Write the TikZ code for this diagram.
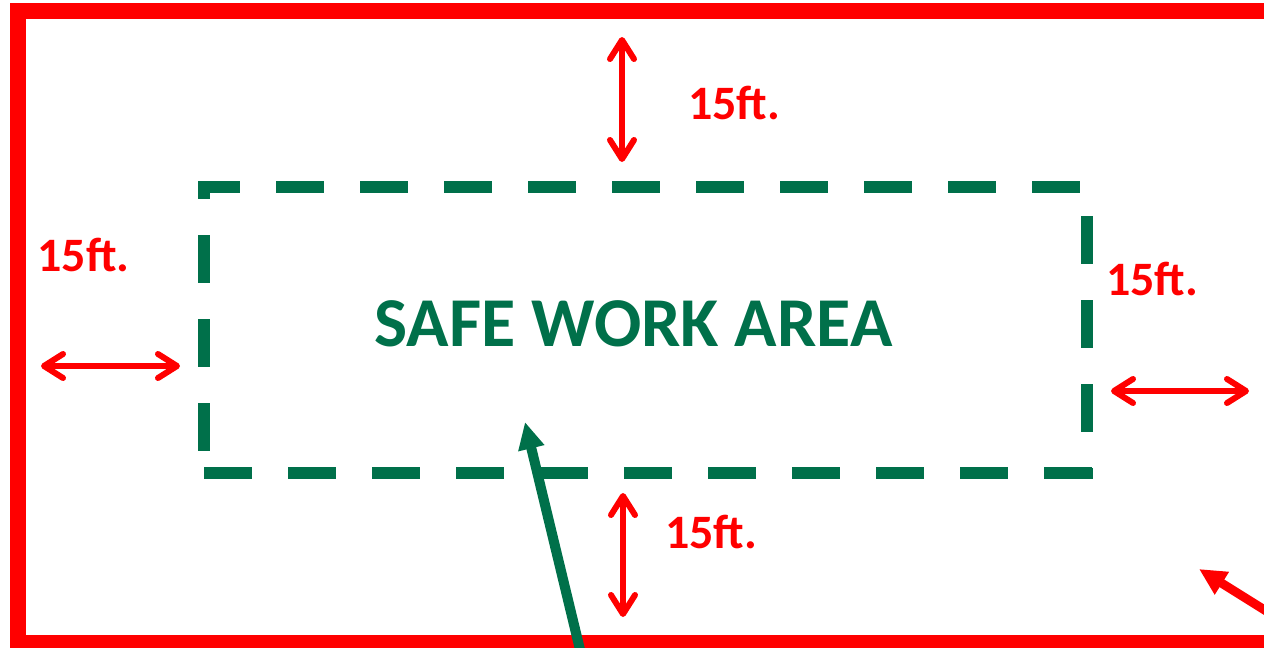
\documentclass[tikz,border=0pt]{standalone}
\usepackage{fontspec}
\setmainfont{Carlito}
\usetikzlibrary{arrows.meta}
\definecolor{safegreen}{RGB}{0,112,74}
\definecolor{warnred}{RGB}{255,0,0}
\tikzset{
  barb/.tip={Straight Barb[length=19pt,width=24pt,line width=6pt,round]},
  dimarrow/.style={draw=warnred, line width=5.5pt, {barb}-{barb}},
  dimlabel/.style={text=warnred, font=\bfseries\fontsize{48}{48}\selectfont, inner sep=0pt, anchor=base},
  dashedge/.style={draw=safegreen, line width=12pt, line cap=butt, dash pattern=on 48pt off 36pt},
  bigarrow/.style={line width=#1, -{Triangle[length=27pt,width=25pt]}},
}
\begin{document}
\begin{tikzpicture}[x=1pt,y=-1pt]
  \useasboundingbox (0,0) rectangle (1264,648);
  \clip (0,0) rectangle (1264,648);
  % red boundary
  \draw[warnred, line width=16pt] (1320,11) -- (18,11) -- (18,643) -- (1320,643);
  % safe work area (dashed)
  \draw[dashedge, dash phase=6pt] (198,187) -- (1093,187);
  \draw[dashedge] (204,473) -- (1093,473);
  \draw[dashedge, dash phase=30pt] (204,181) -- (204,479);
  \draw[dashedge, dash phase=49pt] (1087,181) -- (1087,479);
  \node[text=safegreen, font=\bfseries\fontsize{70}{70}\selectfont, inner sep=0pt, anchor=base] (title) at (633.5,346) {SAFE WORK AREA};
  % dimension arrows
  \coordinate (t1) at (622,37);   \coordinate (t2) at (622,162);
  \coordinate (b1) at (623,493);  \coordinate (b2) at (623,617);
  \coordinate (l1) at (41,366);   \coordinate (l2) at (180,366);
  \coordinate (r1) at (1111,391); \coordinate (r2) at (1249,391);
  \draw[dimarrow] (t1) -- (t2);
  \draw[dimarrow] (b1) -- (b2);
  \draw[dimarrow] (l1) -- (l2);
  \draw[dimarrow] (r1) -- (r2);
  \node[dimlabel] (lt) at (734,119) {15ft.};
  \node[dimlabel] (ll) at (83.5,271) {15ft.};
  \node[dimlabel] (lr) at (1152,295) {15ft.};
  \node[dimlabel] (lb) at (711,548) {15ft.};
  % entry arrows
  \coordinate (gtail) at (583,662);
  \coordinate (gtip) at (525,422);
  \draw[safegreen, bigarrow=10pt] (gtail) -- (gtip);
  \coordinate (rtail) at (1295,629);
  \coordinate (rtip) at (1199,569);
  \draw[warnred, bigarrow=9pt] (rtail) -- (rtip);
\end{tikzpicture}
\end{document}
